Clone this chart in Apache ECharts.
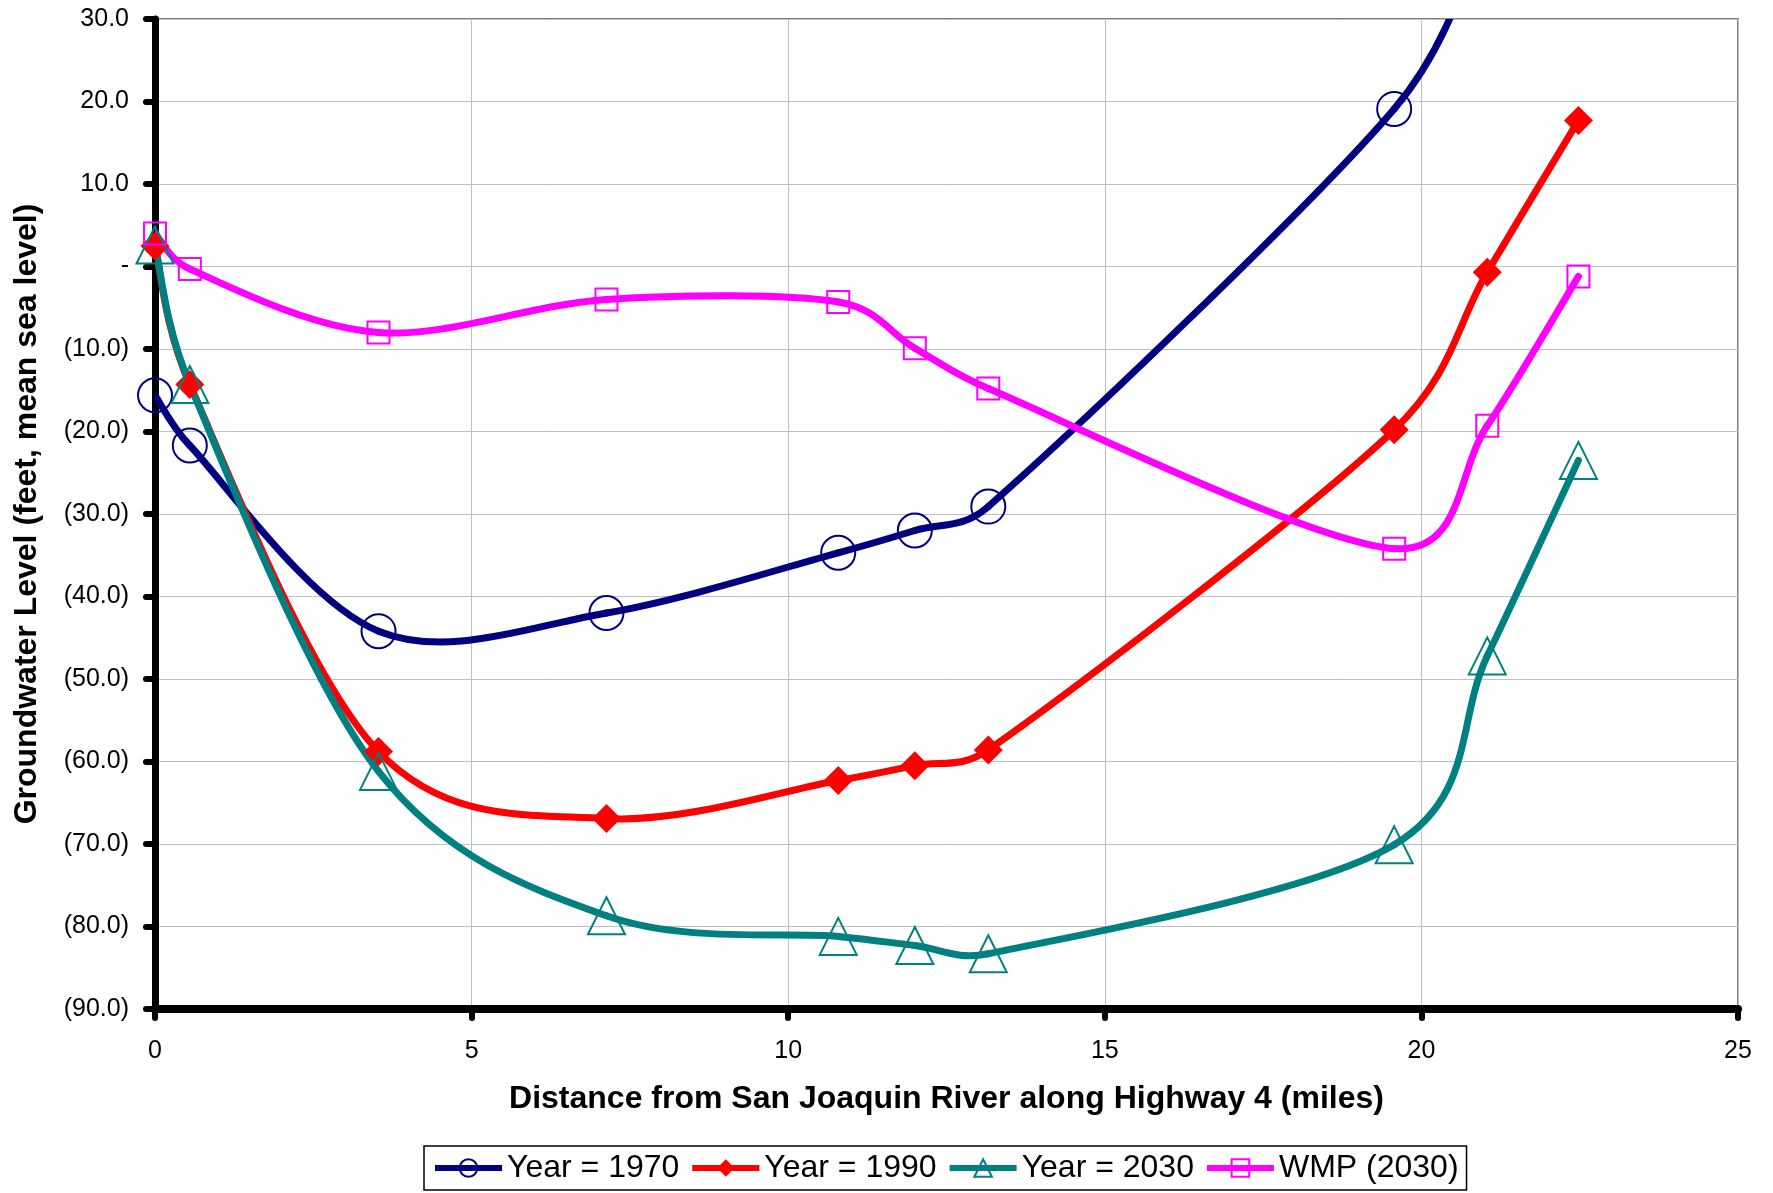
<!DOCTYPE html>
<html>
<head>
<meta charset="utf-8">
<script src="https://cdn.jsdelivr.net/npm/echarts@6/dist/echarts.min.js"></script>
<style>
  html, body { margin: 0; padding: 0; background: #fff; }
  #chart { width: 1773px; height: 1193px; }
</style>
</head>
<body>
<div id="chart"></div>
<script>
// distance along Highway 4 (miles)
const miles = [0, 0.55, 3.53, 7.13, 10.79, 12.0, 13.16, 19.57, 21.04, 22.48];

const year1970 = [-15.6, -21.7, -44.2, -42.0, -34.7, -32.0, -29.1, 19.1, 42.0];
const year1990 = [2.5, -14.3, -58.8, -66.9, -62.3, -60.5, -58.6, -19.8, -0.7, 17.7];
const year2030 = [2.6, -14.3, -61.2, -78.7, -81.2, -82.3, -83.3, -70.1, -47.2, -23.5];
const wmp2030 = [4.0, -0.3, -8.0, -4.0, -4.3, -9.9, -14.8, -34.2, -19.3, -1.2];

const seriesNames = ['Year = 1970', 'Year = 1990', 'Year = 2030', 'WMP (2030)'];
const colors = ['#000080', '#ff0000', '#008080', '#ff00ff'];

function pairs(vals) {
  return vals.map((v, i) => [miles[i], v]);
}

function fmtLevel(v) {
  if (v === 0) return '-';
  if (v < 0) return '(' + Math.abs(v).toFixed(1) + ')';
  return v.toFixed(1);
}

const chart = echarts.init(document.getElementById('chart'));
const font = 'Liberation Sans, Arial, sans-serif';

// tangent handle for a bezier end, capped so short segments don't loop
function handle(a, b, segLen) {
  let dx = (b[0] - a[0]) / 6, dy = (b[1] - a[1]) / 6;
  const len = Math.sqrt(dx * dx + dy * dy);
  const cap = segLen * 0.45;
  if (len > cap && len > 0) {
    dx *= cap / len;
    dy *= cap / len;
  }
  return [dx, dy];
}

// smoothed line like the spreadsheet one: each segment is a bezier
// built from the neighbouring data points in pixel space
function curveSeries(vals, color) {
  const pts = pairs(vals);
  return {
    type: 'custom',
    silent: true,
    clip: true,
    z: 2,
    data: pts,
    encode: { x: 0, y: 1 },
    renderItem: function (params, api) {
      const i = params.dataIndex;
      if (i >= pts.length - 1) return;
      const c = pts.map(p => api.coord(p));
      const p0 = c[Math.max(i - 1, 0)];
      const p1 = c[i];
      const p2 = c[i + 1];
      const p3 = c[Math.min(i + 2, c.length - 1)];
      const seg = Math.hypot(p2[0] - p1[0], p2[1] - p1[1]);
      const h1 = handle(p0, p2, seg);
      const h2 = handle(p1, p3, seg);
      return {
        type: 'bezierCurve',
        shape: {
          x1: p1[0], y1: p1[1], x2: p2[0], y2: p2[1],
          cpx1: p1[0] + h1[0], cpy1: p1[1] + h1[1],
          cpx2: p2[0] - h2[0], cpy2: p2[1] - h2[1]
        },
        style: { stroke: color, lineWidth: 7, fill: null, lineCap: 'round' }
      };
    }
  };
}

function markSeries(name, vals, color, symbol, size, filled) {
  return {
    name: name,
    type: 'line',
    data: pairs(vals),
    clip: true,
    symbol: symbol,
    symbolSize: size,
    showAllSymbol: true,
    lineStyle: { color: color, width: 7, opacity: 0 },
    itemStyle: filled
      ? { color: color, borderWidth: 0 }
      : { color: 'rgba(0,0,0,0)', borderColor: color, borderWidth: 2 },
    emphasis: { disabled: true },
    z: 3
  };
}

chart.setOption({
  backgroundColor: '#fff',
  animation: false,
  grid: {
    left: 155, right: 35, top: 19, bottom: 184,
    show: true, borderColor: '#808080', borderWidth: 2
  },
  legend: {
    left: 424, top: 1146,
    padding: [6, 8],
    borderColor: '#000', borderWidth: 1.5,
    itemWidth: 67, itemHeight: 22, itemGap: 10,
    lineStyle: { width: 6, opacity: 1 },
    textStyle: { fontFamily: font, fontSize: 32, color: '#000' },
    data: seriesNames
  },
  xAxis: {
    type: 'value',
    min: 0, max: 25, interval: 5,
    name: 'Distance from San Joaquin River along Highway 4 (miles)',
    nameLocation: 'middle', nameGap: 74,
    nameTextStyle: { fontFamily: font, fontSize: 32, fontWeight: 'bold', color: '#000' },
    axisLine: { show: true, onZero: false, lineStyle: { color: '#000', width: 8 } },
    axisTick: { show: true, length: 9, lineStyle: { color: '#000', width: 6, cap: 'round' } },
    axisLabel: { fontFamily: font, fontSize: 25, color: '#000', margin: 30 },
    splitLine: { show: true, lineStyle: { color: '#c0c0c0', width: 1 } }
  },
  yAxis: {
    type: 'value',
    min: -90, max: 30, interval: 10,
    name: 'Groundwater Level (feet, mean sea level)',
    nameLocation: 'middle', nameGap: 112,
    nameTextStyle: { fontFamily: font, fontSize: 32, fontWeight: 'bold', color: '#000' },
    axisLine: { show: true, onZero: false, lineStyle: { color: '#000', width: 7 } },
    axisTick: { show: true, length: 9, lineStyle: { color: '#000', width: 6, cap: 'round' } },
    axisLabel: { fontFamily: font, fontSize: 25, color: '#000', margin: 26, formatter: fmtLevel },
    splitLine: { show: true, lineStyle: { color: '#c0c0c0', width: 1 } }
  },
  series: [
    curveSeries(year1970, colors[0]),
    curveSeries(year1990, colors[1]),
    curveSeries(year2030, colors[2]),
    curveSeries(wmp2030, colors[3]),
    markSeries(seriesNames[0], year1970, colors[0], 'circle', 34, false),
    markSeries(seriesNames[1], year1990, colors[1], 'diamond', 29, true),
    markSeries(seriesNames[2], year2030, colors[2], 'triangle', 37, false),
    markSeries(seriesNames[3], wmp2030, colors[3], 'rect', 22, false)
  ]
});
</script>
</body>
</html>
